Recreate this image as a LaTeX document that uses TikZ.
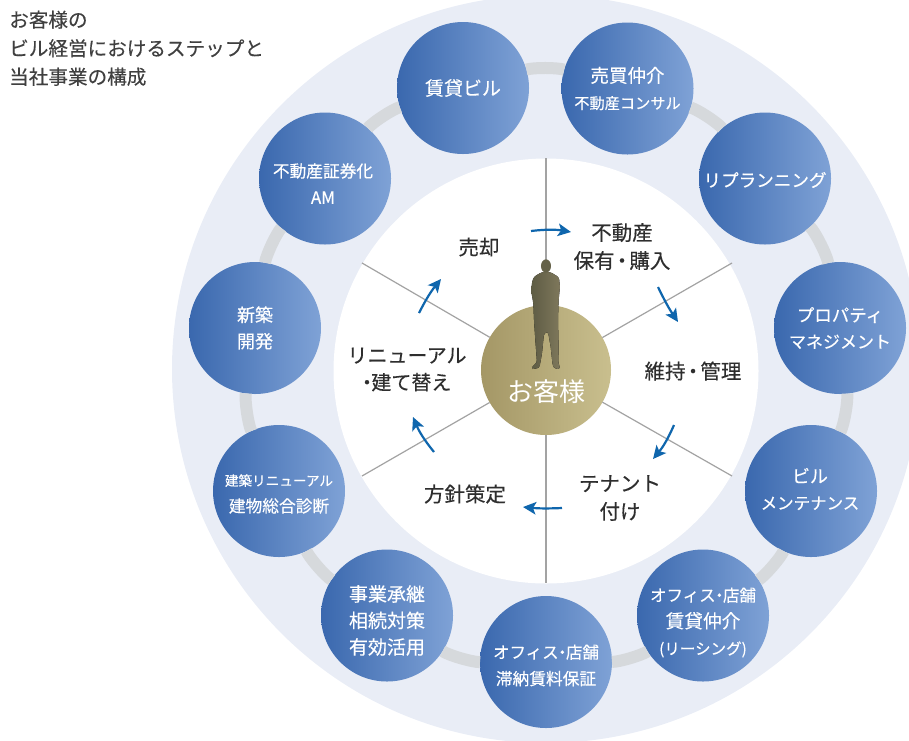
\documentclass[tikz,border=0pt]{standalone}
\usepackage{fontspec}
\setmainfont{Noto Sans CJK JP}
\newfontfamily\medf{Noto Sans CJK JP}[FakeBold=0.3]
\usetikzlibrary{arrows.meta}
\newcommand{\sz}[1]{\fontsize{#1}{26.5}\selectfont}
\newcommand{\nd}{\hspace{-0.28em}・\hspace{-0.28em}}
\newcommand{\ndw}{\hspace{-0.14em}・\hspace{-0.14em}}
\definecolor{disk}{HTML}{E9EDF6}
\definecolor{ringc}{HTML}{D6D9DC}
\definecolor{spoke}{HTML}{A3A3A3}
\definecolor{bluel}{HTML}{3A68AE}
\definecolor{bluer}{HTML}{7FA2D6}
\definecolor{goldl}{HTML}{A49766}
\definecolor{goldr}{HTML}{C9BF8E}
\definecolor{manl}{HTML}{5E5C44}
\definecolor{manr}{HTML}{7F785C}
\definecolor{arrowc}{HTML}{0F66AD}
\definecolor{inkc}{HTML}{2E2E2E}
\tikzset{
  service/.style={circle,minimum size=132pt,inner sep=0pt,outer sep=0pt,
    left color=bluel,right color=bluer},
  servicetext/.style={text=white,align=center,inner sep=0pt,
    font=\medf\fontsize{17}{26.5}\selectfont},
  ringlink/.style={line width=12pt,ringc,bend left=16.4,looseness=.52},
  spokeline/.style={line width=1.2pt,spoke},
  cycle arrow/.style={line width=2.2pt,arrowc,-{Stealth[length=13pt,width=12.5pt,inset=3pt]}},
  phase/.style={text=inkc,align=center,font=\medf\fontsize{20.5}{28}\selectfont,inner sep=0pt},
}
\begin{document}
\begin{tikzpicture}[x=1pt,y=-1pt]
\useasboundingbox (0,0) rectangle (909,740);
\clip (0,0) rectangle (909,740);
\fill[disk] (546,369) circle (374);
\fill[white] (546,371) circle (212.5);

\node[phase,anchor=north west,text=black!75,font=\medf\fontsize{19.6}{28.5}\selectfont,align=left] (title) at (9,10.5)
  {お客様の\\ビル経営におけるステップと\\当社事業の構成};

% outer ring of services
\node[service] (n1) at (463,88) {};
\node[service] (n2) at (627.5,88.5) {};
\node[service] (n3) at (765,178.5) {};
\node[service] (n4) at (840,328) {};
\node[service] (n5) at (811,491) {};
\node[service] (n6) at (703,615.5) {};
\node[service] (n7) at (546,662) {};
\node[service] (n8) at (387,615.5) {};
\node[service] (n9) at (279,491) {};
\node[service] (n10) at (255,328) {};
\node[service] (n11) at (325,178.5) {};

\foreach \a/\b in {n1/n2,n2/n3,n3/n4,n4/n5,n5/n6,n6/n7,n7/n8,n8/n9,n9/n10,n10/n11,n11/n1}
  \draw[ringlink] (\a) to (\b);

\node[servicetext] (t1) at (n1) {\sz{19}賃貸ビル};
\node[servicetext] (t2) at (n2) {\sz{18.5}売買仲介\\\sz{15.2}不動産コンサル};
\node[servicetext,yshift=-1.5pt] (t3) at (n3) {\sz{17.6}リプランニング};
\node[servicetext,xshift=0pt] (t4) at (n4) {\sz{17.5}プロパティ\\\sz{17}マネジメント};
\node[servicetext,yshift=2pt,xshift=-1pt] (t5) at (n5) {\sz{18}ビル\\\sz{16.5}メンテナンス};
\node[servicetext,yshift=-7pt] (t6) at (n6) {\sz{16.5}オフィス\nd 店舗\\\sz{18.7}賃貸仲介\\\sz{15.5}(リーシング)};
\node[servicetext,yshift=-3.5pt] (t7) at (n7) {\sz{16.5}オフィス\nd 店舗\\\sz{16.7}滞納賃料保証};
\node[servicetext,yshift=-5pt] (t8) at (n8) {\sz{19}事業承継\\\sz{19}相続対策\\\sz{19}有効活用};
\node[servicetext,yshift=-3pt] (t9) at (n9) {\sz{13.6}建築リニューアル\\\sz{16.7}建物総合診断};
\node[servicetext] (t10) at (n10) {\sz{18}新築\\\sz{18}開発};
\node[servicetext,yshift=-5pt,xshift=-2pt] (t11) at (n11) {\sz{16.7}不動産証券化\\\sz{17}AM};

% hub and spokes
\node[circle,minimum size=130pt,inner sep=0pt,outer sep=0pt,left color=goldl,right color=goldr] (hub) at (546,370) {};
\node[text=white,inner sep=0pt,font=\fontsize{26}{30}\selectfont] (hublabel) at (546,392) {お客様};

\coordinate (s1) at (546,158);
\coordinate (s2) at (732,263);
\coordinate (s3) at (732,476);
\coordinate (s4) at (546,583);
\coordinate (s5) at (362,476);
\coordinate (s6) at (362,263);
\foreach \s in {s1,s2,s3,s4,s5,s6}
  \draw[spokeline] (hub) -- (\s);

% person silhouette
\begin{scope}[shift={(440,220)},x=0.3333pt,y=-0.3333pt]
  \fill[left color=manl,right color=manr,rounded corners=2.5pt]
    (306,156) -- (282,170) -- (276,186) -- (274,215) -- (280,250) -- (282,300) -- (286,360)
    -- (291,428) -- (276,440) -- (277,447) -- (298,444) -- (306,400) -- (312,340)
    -- (324,335) -- (332,380) -- (338,436) -- (345,447) -- (362,446) -- (355,430)
    -- (356,380) -- (354,300) -- (356,240) -- (360,200) -- (357,172) -- (331,156) -- cycle;
  \fill[manl!80!manr] (318,138) ellipse (15 and 20);
\end{scope}

% phases
\node[phase] (p1) at (622,246.5) {不動産\\保有\ndw 購入};
\node[phase] (p2) at (693,371) {維持\ndw 管理};
\node[phase] (p3) at (620,498) {テナント\\付け};
\node[phase] (p4) at (465,494) {方針策定};
\node[phase,font=\medf\fontsize{20}{27}\selectfont] (p5) at (407,369.5) {リニューアル\\\nd 建て替え};
\node[phase] (p6) at (479,247) {売却};

% cycle arrows
\coordinate (a1s) at (531,231); \coordinate (a1e) at (571,232);
\coordinate (a2s) at (658,287); \coordinate (a2e) at (678,322);
\coordinate (a3s) at (674,425); \coordinate (a3e) at (653,459);
\coordinate (a4s) at (562,508); \coordinate (a4e) at (523,507);
\coordinate (a5s) at (434,452); \coordinate (a5e) at (413,417);
\coordinate (a6s) at (419,313); \coordinate (a6e) at (441,279);
\draw[cycle arrow] (a1s) to[bend left=8] (a1e);
\draw[cycle arrow] (a2s) to[bend right=4] (a2e);
\draw[cycle arrow] (a3s) to[bend left=8] (a3e);
\draw[cycle arrow] (a4s) to[bend left=4] (a4e);
\draw[cycle arrow] (a5s) to[bend left=8] (a5e);
\draw[cycle arrow] (a6s) to[bend left=6] (a6e);
\end{tikzpicture}
\end{document}
